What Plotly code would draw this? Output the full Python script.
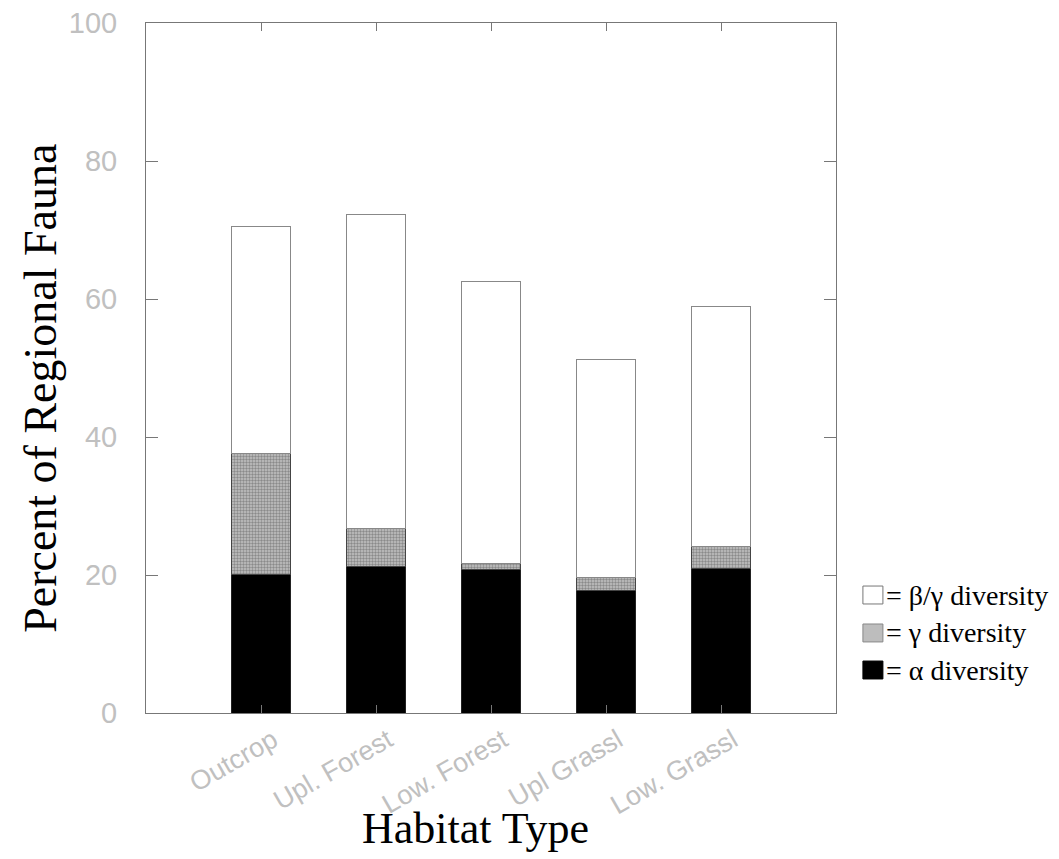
import plotly.graph_objects as go

categories = ["Outcrop", "Upl. Forest", "Low. Forest", "Upl Grassl", "Low. Grassl"]
alpha_top = [20.1, 21.3, 20.8, 17.7, 20.9]
gamma_top = [37.6, 26.7, 21.6, 19.7, 24.1]
total_top = [70.5, 72.3, 62.5, 51.3, 58.9]

alpha_vals = alpha_top
gamma_vals = [g - a for g, a in zip(gamma_top, alpha_top)]
betagamma_vals = [t - g for t, g in zip(total_top, gamma_top)]

legend_labels = ["= β/γ diversity", "= γ diversity", "= α diversity"]
y_ticks = [0, 20, 40, 60, 80, 100]

xpos = list(range(len(categories)))

fig = go.Figure()
fig.add_trace(go.Bar(x=xpos, y=alpha_vals, width=0.51, name="α",
                     marker=dict(color="black", line=dict(color="#222", width=1))))
fig.add_trace(go.Bar(x=xpos, y=gamma_vals, width=0.51, name="γ",
                     marker=dict(color="#b0b0b0", line=dict(color="#444", width=1),
                                 pattern=dict(shape=".", fgcolor="#505050", bgcolor="#c4c4c4",
                                              size=3, solidity=0.5))))
fig.add_trace(go.Bar(x=xpos, y=betagamma_vals, width=0.51, name="β/γ",
                     marker=dict(color="white", line=dict(color="#888", width=1))))

ytickfont = dict(family="Liberation Sans, Arial", size=29, color="#c0c0c0")
xtickfont = dict(family="Liberation Sans, Arial", size=27, color="#c0c0c0")

fig.update_layout(
    barmode="stack",
    width=1051, height=851,
    margin=dict(l=138, r=223, t=15, b=146),
    paper_bgcolor="white", plot_bgcolor="white",
    showlegend=False,
    xaxis=dict(range=[-1, 5], tickmode="array", tickvals=xpos, ticktext=categories,
               tickangle=-30, ticks="inside", ticklen=8, tickcolor="#777",
               showline=True, linecolor="#777", linewidth=1, mirror="ticks",
               showgrid=False, zeroline=False, tickfont=xtickfont,
               automargin=False, ticklabelshift=12, ticklabeloverflow="allow"),
    yaxis=dict(range=[0, 100], tickmode="array", tickvals=y_ticks,
               ticks="inside", ticklen=12, tickcolor="#777",
               showline=True, linecolor="#777", linewidth=1, mirror="ticks",
               showgrid=False, zeroline=False, tickfont=ytickfont,
               ticklabelstandoff=22, automargin=False, ticklabeloverflow="allow"),
)

# axis titles
fig.add_annotation(text="Percent of Regional Fauna", xref="paper", yref="paper",
                   x=-0.152, y=0.47, textangle=-90, showarrow=False,
                   xanchor="center", yanchor="middle",
                   font=dict(family="Liberation Serif, Times New Roman", size=46, color="black"))
fig.add_annotation(text="Habitat Type", xref="paper", yref="paper",
                   x=0.477, y=-0.168, showarrow=False, xanchor="center", yanchor="middle",
                   font=dict(family="Liberation Serif, Times New Roman", size=44, color="black"))

# legend (manual)
legend_fills = ["white", "#bdbdbd", "black"]
legend_lines = ["#777", "#888", "black"]
row_y = [0.171, 0.116, 0.0623]
bx0, bx1 = 1.039, 1.068
hh = 0.013
for lab, fc, lc, yy in zip(legend_labels, legend_fills, legend_lines, row_y):
    fig.add_shape(type="rect", xref="paper", yref="paper", x0=bx0, x1=bx1,
                  y0=yy - hh, y1=yy + hh, fillcolor=fc, line=dict(color=lc, width=1))
    fig.add_annotation(text=lab, xref="paper", yref="paper", x=bx1 + 0.002, y=yy,
                       xanchor="left", yanchor="middle", showarrow=False,
                       font=dict(family="Liberation Serif, Times New Roman", size=28, color="black"))

fig.write_html("out.html")
